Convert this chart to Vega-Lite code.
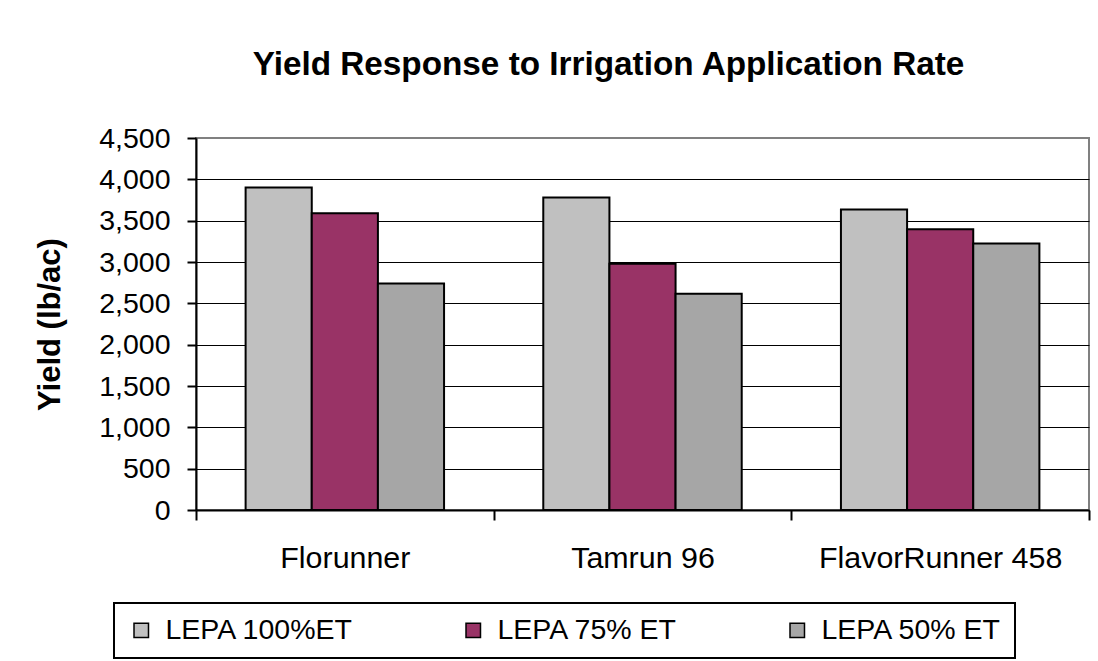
{
  "$schema": "https://vega.github.io/schema/vega-lite/v6.json",
  "width": 893,
  "height": 372,
  "autosize": "none",
  "padding": {"left": 196, "top": 138, "right": 9, "bottom": 151},
  "background": "white",
  "title": {
    "text": "Yield Response to Irrigation Application Rate",
    "font": "Liberation Sans",
    "fontSize": 33.3,
    "fontWeight": "bold",
    "color": "black",
    "anchor": "middle",
    "dx": -34,
    "baseline": "alphabetic",
    "offset": 16
  },
  "data": {
    "values": [
      {"variety": "Florunner", "treatment": "LEPA 100%ET", "yield": 3900},
      {"variety": "Florunner", "treatment": "LEPA 75% ET", "yield": 3590},
      {"variety": "Florunner", "treatment": "LEPA 50% ET", "yield": 2740},
      {"variety": "Tamrun 96", "treatment": "LEPA 100%ET", "yield": 3780},
      {"variety": "Tamrun 96", "treatment": "LEPA 75% ET", "yield": 2980},
      {"variety": "Tamrun 96", "treatment": "LEPA 50% ET", "yield": 2615},
      {"variety": "FlavorRunner 458", "treatment": "LEPA 100%ET", "yield": 3635},
      {"variety": "FlavorRunner 458", "treatment": "LEPA 75% ET", "yield": 3395},
      {"variety": "FlavorRunner 458", "treatment": "LEPA 50% ET", "yield": 3225}
    ]
  },
  "mark": {"type": "bar", "stroke": "black", "strokeWidth": 2},
  "encoding": {
    "x": {
      "field": "variety",
      "type": "nominal",
      "sort": ["Florunner", "Tamrun 96", "FlavorRunner 458"],
      "scale": {"paddingInner": 0, "paddingOuter": 0},
      "axis": {
        "title": null,
        "domainColor": "black",
        "domainWidth": 2,
        "tickBand": "extent",
        "tickColor": "black",
        "tickWidth": 2,
        "tickSize": 10,
        "labelFont": "Liberation Sans",
        "labelFontSize": 30.4,
        "labelColor": "black",
        "labelAngle": 0,
        "labelLimit": 400,
        "labelBaseline": "alphabetic",
        "labelPadding": 47
      }
    },
    "xOffset": {
      "field": "treatment",
      "type": "nominal",
      "sort": ["LEPA 100%ET", "LEPA 75% ET", "LEPA 50% ET"],
      "scale": {"paddingInner": 0, "paddingOuter": 0.75}
    },
    "y": {
      "field": "yield",
      "type": "quantitative",
      "scale": {"domain": [0, 4500], "nice": false},
      "axis": {
        "title": "Yield (lb/ac)",
        "values": [0, 500, 1000, 1500, 2000, 2500, 3000, 3500, 4000, 4500],
        "format": ",d",
        "domainColor": "black",
        "domainWidth": 2,
        "tickColor": "black",
        "tickWidth": 2,
        "tickSize": 9,
        "labelFont": "Liberation Sans",
        "labelFontSize": 28.5,
        "labelColor": "black",
        "labelPadding": 17,
        "grid": true,
        "gridColor": {"condition": {"test": "datum.value === 4500", "value": "#808080"}, "value": "black"},
        "gridWidth": 1,
        "gridOpacity": 1,
        "titleFont": "Liberation Sans",
        "titleFontSize": 31,
        "titleFontWeight": "bold",
        "titleColor": "black",
        "titleX": -137,
        "titleY": 186,
        "titleBaseline": "alphabetic"
      }
    },
    "color": {
      "field": "treatment",
      "type": "nominal",
      "sort": ["LEPA 100%ET", "LEPA 75% ET", "LEPA 50% ET"],
      "scale": {
        "domain": ["LEPA 100%ET", "LEPA 75% ET", "LEPA 50% ET"],
        "range": ["#c0c0c0", "#993366", "#a6a6a6"]
      },
      "legend": {
        "orient": "none",
        "legendX": -82,
        "legendY": 465,
        "direction": "horizontal",
        "columns": 3,
        "title": null,
        "symbolType": "square",
        "symbolSize": 210,
        "symbolStrokeColor": "black",
        "symbolStrokeWidth": 1.5,
        "symbolOpacity": 1,
        "labelFont": "Liberation Sans",
        "labelFontSize": 28.5,
        "labelColor": "black",
        "labelLimit": 400,
        "labelOffset": 10,
        "columnPadding": 105,
        "padding": 13,
        "strokeColor": "black",
        "encode": {"legend": {"update": {"strokeWidth": {"value": 2}}}}
      }
    }
  },
  "config": {
    "view": {"stroke": "#808080", "strokeWidth": 2}
  }
}
